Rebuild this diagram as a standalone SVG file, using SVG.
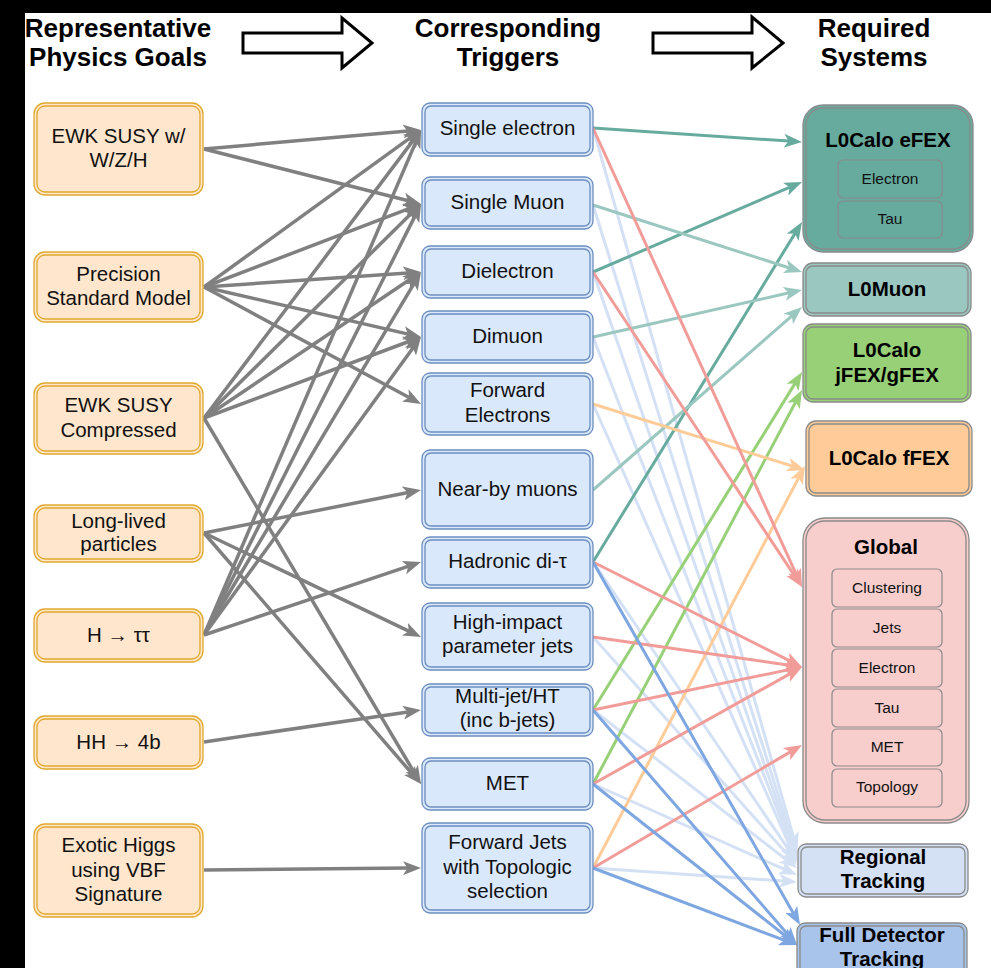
<svg xmlns="http://www.w3.org/2000/svg" width="991" height="968" viewBox="0 0 991 968">
  <style>
    .t { font-family: "Liberation Sans", Arial, Helvetica, sans-serif; font-size: 20.5px; text-anchor: middle; fill: #111; }
    .b { font-weight: bold; fill: #000; }
    .h { font-family: "Liberation Sans", Arial, Helvetica, sans-serif; font-size: 26px; font-weight: bold; text-anchor: middle; fill: #000; }
    .s { font-size: 15.5px; }
    .goal { fill: #ffe6cc; stroke: #e0a92c; stroke-width: 1.3; }
    .goal2 { fill: none; stroke: #e0a92c; stroke-width: 1.3; }
    .trig { fill: #dae8fc; stroke: #6c8ebf; stroke-width: 1.3; }
    .trig2 { fill: none; stroke: #6c8ebf; stroke-width: 1.3; }
    .sys2 { fill: none; stroke: #8a8a8a; stroke-width: 1.3; }
    .sub { fill: none; stroke: #8a8a8a; stroke-width: 1.2; }
    .e { fill: none; stroke-width: 3.5; }
    .gray { stroke: #808080; marker-end: url(#aGray); }
    .teal { stroke: #67ab9f; stroke-width: 3; marker-end: url(#aTeal); }
    .lteal { stroke: #9ac7bf; stroke-width: 3; marker-end: url(#aLTeal); }
    .green { stroke: #97d077; stroke-width: 3; marker-end: url(#aGreen); }
    .orange { stroke: #ffcc99; stroke-width: 3; marker-end: url(#aOrange); }
    .red { stroke: #f19c99; stroke-width: 3; marker-end: url(#aRed); }
    .lblue { stroke: #d4e1f5; stroke-width: 3; marker-end: url(#aLBlue); }
    .dblue { stroke: #7ea6e0; stroke-width: 3; marker-end: url(#aDBlue); }
    .big { fill: #fff; stroke: #000; stroke-width: 3; }
  </style>
  <defs>
    <marker id="aGray" markerUnits="userSpaceOnUse" viewBox="0 0 18 14" markerWidth="18" markerHeight="14" refX="5" refY="7" orient="auto"><path d="M0,0 L18,7 L0,14 L4.5,7 Z" fill="#808080"/></marker>
    <marker id="aTeal" markerUnits="userSpaceOnUse" viewBox="0 0 18 14" markerWidth="18" markerHeight="14" refX="5" refY="7" orient="auto"><path d="M0,0 L18,7 L0,14 L4.5,7 Z" fill="#67ab9f"/></marker>
    <marker id="aLTeal" markerUnits="userSpaceOnUse" viewBox="0 0 18 14" markerWidth="18" markerHeight="14" refX="5" refY="7" orient="auto"><path d="M0,0 L18,7 L0,14 L4.5,7 Z" fill="#9ac7bf"/></marker>
    <marker id="aGreen" markerUnits="userSpaceOnUse" viewBox="0 0 18 14" markerWidth="18" markerHeight="14" refX="5" refY="7" orient="auto"><path d="M0,0 L18,7 L0,14 L4.5,7 Z" fill="#97d077"/></marker>
    <marker id="aOrange" markerUnits="userSpaceOnUse" viewBox="0 0 18 14" markerWidth="18" markerHeight="14" refX="5" refY="7" orient="auto"><path d="M0,0 L18,7 L0,14 L4.5,7 Z" fill="#ffcc99"/></marker>
    <marker id="aRed" markerUnits="userSpaceOnUse" viewBox="0 0 18 14" markerWidth="18" markerHeight="14" refX="5" refY="7" orient="auto"><path d="M0,0 L18,7 L0,14 L4.5,7 Z" fill="#f19c99"/></marker>
    <marker id="aLBlue" markerUnits="userSpaceOnUse" viewBox="0 0 18 14" markerWidth="18" markerHeight="14" refX="5" refY="7" orient="auto"><path d="M0,0 L18,7 L0,14 L4.5,7 Z" fill="#d4e1f5"/></marker>
    <marker id="aDBlue" markerUnits="userSpaceOnUse" viewBox="0 0 18 14" markerWidth="18" markerHeight="14" refX="5" refY="7" orient="auto"><path d="M0,0 L18,7 L0,14 L4.5,7 Z" fill="#7ea6e0"/></marker>
  </defs>

  <rect x="0" y="0" width="991" height="968" fill="#fff"/>
  <!-- frame bands -->
  <rect x="0" y="0" width="991" height="13" fill="#000"/>
  <rect x="0" y="0" width="25" height="968" fill="#000"/>

  <!-- column headings -->
  <g id="headings">
    <text class="h" x="118" y="37">Representative</text>
    <text class="h" x="118" y="66">Physics Goals</text>
    <text class="h" x="508" y="37">Corresponding</text>
    <text class="h" x="508" y="66">Triggers</text>
    <text class="h" x="874" y="37">Required</text>
    <text class="h" x="874" y="66">Systems</text>
    <polygon class="big" points="243,33 342,33 342,18 372,43 342,68 342,53 243,53"/>
    <polygon class="big" points="653,33 752,33 752,17 783,43 752,68 752,53 653,53"/>
  </g>

  <!-- connectors -->
  <g id="connectors" class="e">
    <!-- triggers to regional tracking -->
    <line class="lblue" x1="593" y1="128" x2="793.5" y2="837.5"/>
    <line class="lblue" x1="593" y1="205" x2="793.1" y2="842.6"/>
    <line class="lblue" x1="593" y1="272" x2="792.7" y2="845.7"/>
    <line class="lblue" x1="593" y1="337" x2="792.3" y2="847.9"/>
    <line class="lblue" x1="593" y1="404" x2="791.7" y2="850.1"/>
    <line class="lblue" x1="593" y1="562" x2="789.7" y2="851.2"/>
    <line class="lblue" x1="593" y1="637" x2="788.3" y2="855.3"/>
    <line class="lblue" x1="593" y1="710" x2="786.7" y2="860.0"/>
    <line class="lblue" x1="593" y1="784" x2="785.1" y2="869.7"/>
    <line class="lblue" x1="593" y1="868" x2="784.0" y2="881.1"/>

    <!-- goals to triggers -->
    <line class="gray" x1="204" y1="149" x2="408.0" y2="131.1"/>
    <line class="gray" x1="204" y1="149" x2="408.4" y2="200.8"/>
    <line class="gray" x1="204" y1="287" x2="410.5" y2="137.6"/>
    <line class="gray" x1="204" y1="287" x2="408.9" y2="208.6"/>
    <line class="gray" x1="204" y1="287" x2="408.0" y2="272.9"/>
    <line class="gray" x1="204" y1="287" x2="408.3" y2="334.1"/>
    <line class="gray" x1="204" y1="287" x2="409.6" y2="397.8"/>
    <line class="gray" x1="204" y1="418" x2="413.2" y2="140.4"/>
    <line class="gray" x1="204" y1="418" x2="411.7" y2="213.1"/>
    <line class="gray" x1="204" y1="418" x2="410.2" y2="279.3"/>
    <line class="gray" x1="204" y1="418" x2="408.8" y2="341.5"/>
    <line class="gray" x1="204" y1="418" x2="414.4" y2="772.8"/>
    <line class="gray" x1="204" y1="533" x2="408.2" y2="492.5"/>
    <line class="gray" x1="204" y1="533" x2="409.3" y2="631.4"/>
    <line class="gray" x1="204" y1="533" x2="412.5" y2="774.2"/>
    <line class="gray" x1="204" y1="635" x2="415.9" y2="141.9"/>
    <line class="gray" x1="204" y1="635" x2="415.2" y2="215.6"/>
    <line class="gray" x1="204" y1="635" x2="414.3" y2="283.2"/>
    <line class="gray" x1="204" y1="635" x2="413.3" y2="347.5"/>
    <line class="gray" x1="204" y1="635" x2="408.7" y2="566.1"/>
    <line class="gray" x1="204" y1="742" x2="408.1" y2="711.9"/>
    <line class="gray" x1="204" y1="870" x2="408.0" y2="868.1"/>

    <!-- triggers to L0Calo eFEX -->
    <line class="teal" x1="593" y1="128" x2="789.0" y2="141.1"/>
    <line class="teal" x1="593" y1="272" x2="790.1" y2="187.1"/>
    <line class="teal" x1="593" y1="562" x2="795.2" y2="233.1"/>
    <!-- triggers to L0Muon -->
    <line class="lteal" x1="593" y1="205" x2="789.6" y2="268.0"/>
    <line class="lteal" x1="593" y1="337" x2="789.3" y2="292.8"/>
    <line class="lteal" x1="593" y1="490" x2="792.2" y2="315.6"/>
    <!-- triggers to L0Calo jFEX/gFEX -->
    <line class="green" x1="593" y1="710" x2="795.2" y2="383.1"/>
    <line class="green" x1="593" y1="784" x2="795.9" y2="401.5"/>
    <!-- triggers to L0Calo fFEX -->
    <line class="orange" x1="593" y1="404" x2="792.6" y2="466.1"/>
    <line class="orange" x1="593" y1="868" x2="798.9" y2="477.5"/>
    <!-- triggers to Global -->
    <line class="red" x1="593" y1="128" x2="796.6" y2="575.2"/>
    <line class="red" x1="593" y1="272" x2="794.8" y2="576.2"/>
    <line class="red" x1="593" y1="562" x2="790.4" y2="661.2"/>
    <line class="red" x1="593" y1="637" x2="789.1" y2="665.2"/>
    <line class="red" x1="593" y1="710" x2="789.3" y2="669.6"/>
    <line class="red" x1="593" y1="784" x2="790.7" y2="673.4"/>
    <line class="red" x1="593" y1="868" x2="790.8" y2="751.6"/>
    <!-- triggers to full detector tracking -->
    <line class="dblue" x1="593" y1="562" x2="793.6" y2="913.7"/>
    <line class="dblue" x1="593" y1="710" x2="788.5" y2="935.2"/>
    <line class="dblue" x1="593" y1="784" x2="786.8" y2="937.0"/>
    <line class="dblue" x1="593" y1="868" x2="784.8" y2="940.4"/>
  </g>

  <!-- physics goals -->
  <g id="goal-ewk-wzh">
    <rect class="goal" x="34" y="103" width="169" height="92" rx="11"/>
    <rect class="goal2" x="37" y="106" width="163" height="86" rx="8"/>
    <text class="t" x="118.5" y="143">EWK SUSY w/</text>
    <text class="t" x="118.5" y="167">W/Z/H</text>
  </g>
  <g id="goal-precision-sm">
    <rect class="goal" x="34" y="252" width="169" height="70" rx="11"/>
    <rect class="goal2" x="37" y="255" width="163" height="64" rx="8"/>
    <text class="t" x="118.5" y="281">Precision</text>
    <text class="t" x="118.5" y="305">Standard Model</text>
  </g>
  <g id="goal-ewk-compressed">
    <rect class="goal" x="34" y="383" width="169" height="71" rx="11"/>
    <rect class="goal2" x="37" y="386" width="163" height="65" rx="8"/>
    <text class="t" x="118.5" y="412">EWK SUSY</text>
    <text class="t" x="118.5" y="437">Compressed</text>
  </g>
  <g id="goal-long-lived">
    <rect class="goal" x="34" y="505" width="169" height="57" rx="11"/>
    <rect class="goal2" x="37" y="508" width="163" height="51" rx="8"/>
    <text class="t" x="118.5" y="528">Long-lived</text>
    <text class="t" x="118.5" y="551">particles</text>
  </g>
  <g id="goal-h-tautau">
    <rect class="goal" x="34" y="609" width="169" height="53" rx="11"/>
    <rect class="goal2" x="37" y="612" width="163" height="47" rx="8"/>
    <text class="t" x="118.5" y="642">H → ττ</text>
  </g>
  <g id="goal-hh-4b">
    <rect class="goal" x="34" y="716" width="169" height="53" rx="11"/>
    <rect class="goal2" x="37" y="719" width="163" height="47" rx="8"/>
    <text class="t" x="118.5" y="749">HH → 4b</text>
  </g>
  <g id="goal-exotic-higgs">
    <rect class="goal" x="34" y="824" width="169" height="93" rx="11"/>
    <rect class="goal2" x="37" y="827" width="163" height="87" rx="8"/>
    <text class="t" x="118.5" y="852">Exotic Higgs</text>
    <text class="t" x="118.5" y="877">using VBF</text>
    <text class="t" x="118.5" y="901">Signature</text>
  </g>

  <!-- triggers -->
  <g id="trig-single-electron">
    <rect class="trig" x="422" y="103" width="171" height="53" rx="8"/>
    <rect class="trig2" x="425" y="106" width="165" height="47" rx="6"/>
    <text class="t" x="507.5" y="135">Single electron</text>
  </g>
  <g id="trig-single-muon">
    <rect class="trig" x="422" y="177" width="171" height="52" rx="8"/>
    <rect class="trig2" x="425" y="180" width="165" height="46" rx="6"/>
    <text class="t" x="507.5" y="209">Single Muon</text>
  </g>
  <g id="trig-dielectron">
    <rect class="trig" x="422" y="246" width="171" height="52" rx="8"/>
    <rect class="trig2" x="425" y="249" width="165" height="46" rx="6"/>
    <text class="t" x="507.5" y="278">Dielectron</text>
  </g>
  <g id="trig-dimuon">
    <rect class="trig" x="422" y="311" width="171" height="52" rx="8"/>
    <rect class="trig2" x="425" y="314" width="165" height="46" rx="6"/>
    <text class="t" x="507.5" y="343">Dimuon</text>
  </g>
  <g id="trig-forward-electrons">
    <rect class="trig" x="422" y="373" width="171" height="62" rx="8"/>
    <rect class="trig2" x="425" y="376" width="165" height="56" rx="6"/>
    <text class="t" x="507.5" y="397">Forward</text>
    <text class="t" x="507.5" y="422">Electrons</text>
  </g>
  <g id="trig-nearby-muons">
    <rect class="trig" x="422" y="450" width="171" height="79" rx="8"/>
    <rect class="trig2" x="425" y="453" width="165" height="73" rx="6"/>
    <text class="t" x="507.5" y="496">Near-by muons</text>
  </g>
  <g id="trig-hadronic-ditau">
    <rect class="trig" x="422" y="537" width="171" height="51" rx="8"/>
    <rect class="trig2" x="425" y="540" width="165" height="45" rx="6"/>
    <text class="t" x="507.5" y="568">Hadronic di-τ</text>
  </g>
  <g id="trig-high-impact">
    <rect class="trig" x="422" y="603" width="171" height="67" rx="8"/>
    <rect class="trig2" x="425" y="606" width="165" height="61" rx="6"/>
    <text class="t" x="507.5" y="629">High-impact</text>
    <text class="t" x="507.5" y="653">parameter jets</text>
  </g>
  <g id="trig-multijet">
    <rect class="trig" x="422" y="684" width="171" height="52" rx="8"/>
    <rect class="trig2" x="425" y="687" width="165" height="46" rx="6"/>
    <text class="t" x="507.5" y="703">Multi-jet/HT</text>
    <text class="t" x="507.5" y="727">(inc b-jets)</text>
  </g>
  <g id="trig-met">
    <rect class="trig" x="422" y="758" width="171" height="52" rx="8"/>
    <rect class="trig2" x="425" y="761" width="165" height="46" rx="6"/>
    <text class="t" x="507.5" y="790">MET</text>
  </g>
  <g id="trig-forward-jets">
    <rect class="trig" x="422" y="823" width="171" height="90" rx="8"/>
    <rect class="trig2" x="425" y="826" width="165" height="84" rx="6"/>
    <text class="t" x="507.5" y="849">Forward Jets</text>
    <text class="t" x="507.5" y="874">with Topologic</text>
    <text class="t" x="507.5" y="898">selection</text>
  </g>

  <!-- required systems -->
  <g id="sys-efex">
    <rect x="803" y="105" width="170" height="147" rx="20" fill="#67ab9f" stroke="#8a8a8a" stroke-width="1.3"/>
    <rect class="sys2" x="806" y="108" width="164" height="141" rx="17"/>
    <text class="t b" x="888" y="147">L0Calo eFEX</text>
    <rect class="sub" x="838" y="160" width="104" height="38" rx="5"/>
    <text class="t s" x="890" y="184">Electron</text>
    <rect class="sub" x="838" y="201" width="104" height="37" rx="5"/>
    <text class="t s" x="890" y="224">Tau</text>
  </g>
  <g id="sys-l0muon">
    <rect x="803" y="263" width="168" height="53" rx="10" fill="#9ac7bf" stroke="#8a8a8a" stroke-width="1.3"/>
    <rect class="sys2" x="806" y="266" width="162" height="47" rx="7"/>
    <text class="t b" x="887" y="296">L0Muon</text>
  </g>
  <g id="sys-jfex-gfex">
    <rect x="803" y="324" width="168" height="78" rx="10" fill="#97d077" stroke="#8a8a8a" stroke-width="1.3"/>
    <rect class="sys2" x="806" y="327" width="162" height="72" rx="7"/>
    <text class="t b" x="887" y="357">L0Calo</text>
    <text class="t b" x="887" y="382">jFEX/gFEX</text>
  </g>
  <g id="sys-ffex">
    <rect x="806" y="421" width="166" height="75" rx="10" fill="#ffcc99" stroke="#8a8a8a" stroke-width="1.3"/>
    <rect class="sys2" x="809" y="424" width="160" height="69" rx="7"/>
    <text class="t b" x="889" y="465">L0Calo fFEX</text>
  </g>
  <g id="sys-global">
    <rect x="803" y="518" width="166" height="305" rx="22" fill="#f8cecc" stroke="#8a8a8a" stroke-width="1.3"/>
    <rect class="sys2" x="806" y="521" width="160" height="299" rx="19"/>
    <text class="t b" x="886" y="554">Global</text>
    <rect class="sub" x="832" y="569" width="110" height="38" rx="5"/>
    <text class="t s" x="887" y="593">Clustering</text>
    <rect class="sub" x="832" y="609" width="110" height="38" rx="5"/>
    <text class="t s" x="887" y="633">Jets</text>
    <rect class="sub" x="832" y="649" width="110" height="38" rx="5"/>
    <text class="t s" x="887" y="673">Electron</text>
    <rect class="sub" x="832" y="689" width="110" height="38" rx="5"/>
    <text class="t s" x="887" y="713">Tau</text>
    <rect class="sub" x="832" y="729" width="110" height="37" rx="5"/>
    <text class="t s" x="887" y="752">MET</text>
    <rect class="sub" x="832" y="769" width="110" height="38" rx="5"/>
    <text class="t s" x="887" y="792">Topology</text>
  </g>
  <g id="sys-regional-tracking">
    <rect x="798" y="844" width="170" height="53" rx="8" fill="#d4e1f5" stroke="#8a8a8a" stroke-width="1.3"/>
    <rect class="sys2" x="801" y="847" width="164" height="47" rx="6"/>
    <text class="t b" x="883" y="864">Regional</text>
    <text class="t b" x="883" y="888">Tracking</text>
  </g>
  <g id="sys-full-tracking">
    <rect x="797" y="923" width="170" height="70" rx="8" fill="#a9c4eb" stroke="#8a8a8a" stroke-width="1.3"/>
    <rect class="sys2" x="800" y="926" width="164" height="64" rx="6"/>
    <text class="t b" x="882" y="942">Full Detector</text>
    <text class="t b" x="882" y="966">Tracking</text>
  </g>
</svg>
